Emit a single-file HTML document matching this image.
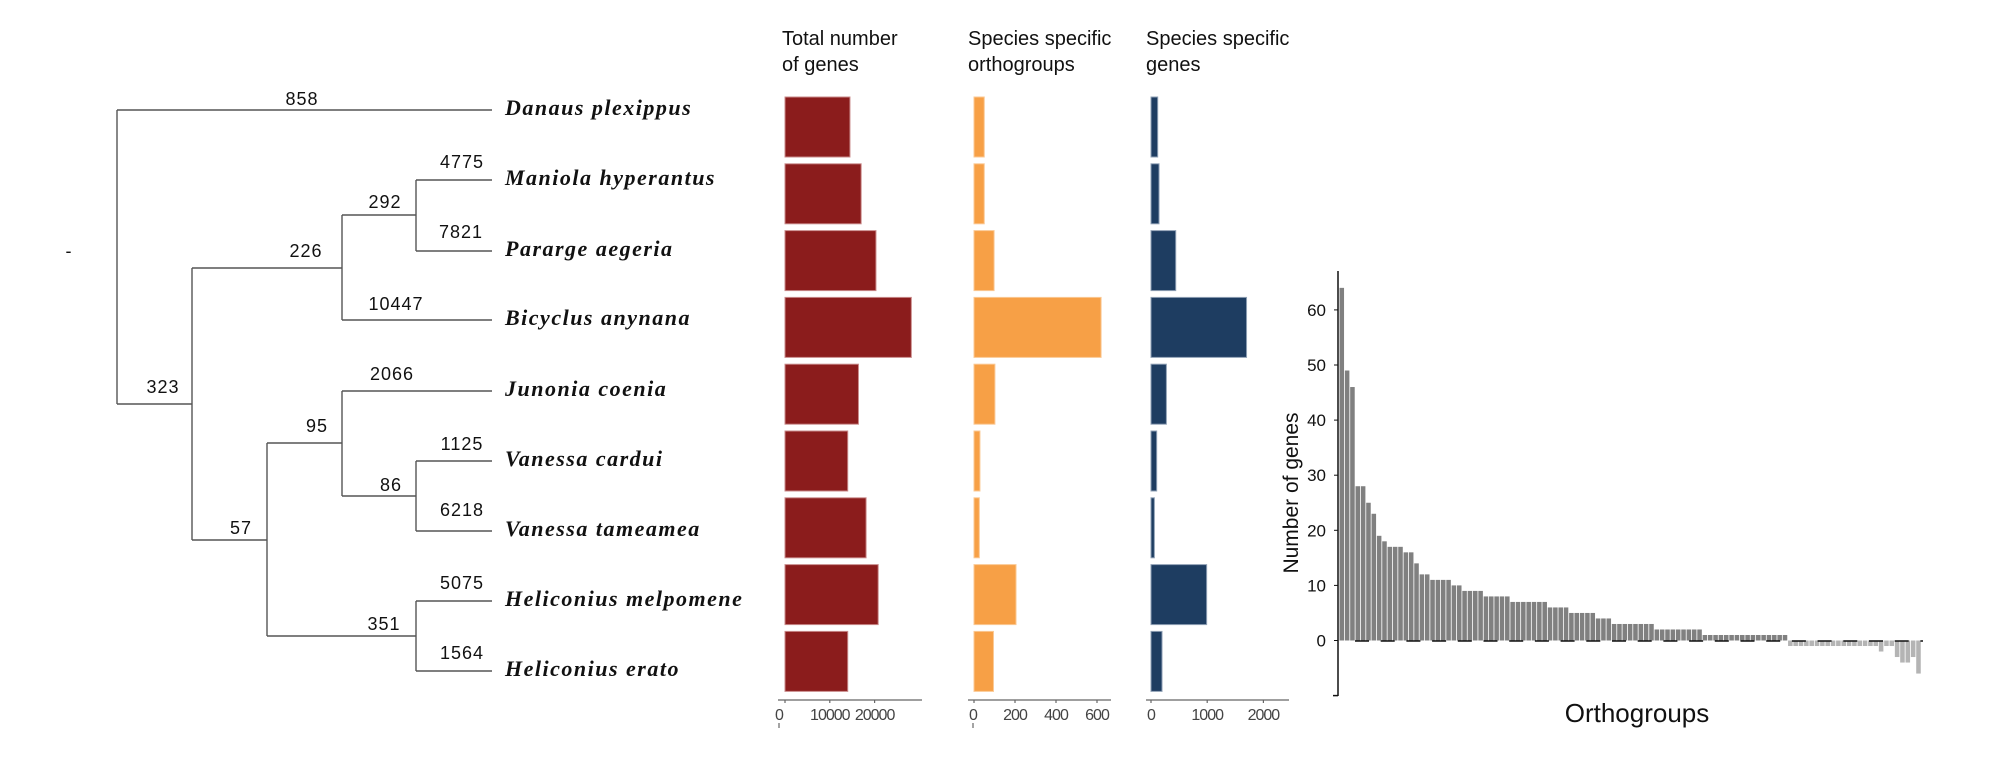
<!DOCTYPE html>
<html><head><meta charset="utf-8"><style>
html,body{margin:0;padding:0;background:#fff;}
svg{display:block;font-family:"Liberation Sans",sans-serif;}
</style></head><body>
<svg id="fig" width="2008" height="768" viewBox="0 0 2008 768" xmlns="http://www.w3.org/2000/svg">
<g id="tree" stroke="#555" stroke-width="1.4" fill="none">
<path d="M117,110 V404 M117,110 H492 M117,404 H192 M192,268 V540 M192,268 H342 M342,215 V320 M342,215 H416 M416,180 V251 M416,180 H492 M416,251 H492 M342,320 H492 M192,540 H267 M267,443 V636 M267,443 H342 M342,391 V496 M342,391 H492 M342,496 H416 M416,461 V531 M416,461 H492 M416,531 H492 M267,636 H416 M416,601 V671 M416,601 H492 M416,671 H492"/>
</g>
<g font-size="18" fill="#111" text-anchor="middle" letter-spacing="1">
<text x="302" y="105">858</text><text x="462" y="168">4775</text><text x="385" y="208">292</text>
<text x="461" y="238">7821</text><text x="306" y="257">226</text><text x="396" y="310">10447</text>
<text x="163" y="393">323</text><text x="392" y="380">2066</text><text x="317" y="432">95</text>
<text x="462" y="450">1125</text><text x="391" y="491">86</text><text x="462" y="516">6218</text>
<text x="241" y="534">57</text><text x="462" y="589">5075</text><text x="384" y="630">351</text><text x="462" y="659">1564</text>
<text x="69" y="257">-</text>
</g>
<g id="species" font-family="'Liberation Serif',serif" font-style="italic" font-weight="bold" font-size="22" letter-spacing="1.5" fill="#111"></g>
<g font-size="20" fill="#111">
<text x="782" y="45">Total number</text><text x="782" y="71">of genes</text>
<text x="968" y="45">Species specific</text><text x="968" y="71">orthogroups</text>
<text x="1146" y="45">Species specific</text><text x="1146" y="71">genes</text>
</g>
<g id="panels"></g>
<g id="right"></g>
</svg>
<script>
const NS="http://www.w3.org/2000/svg";
const species=["Danaus plexippus","Maniola hyperantus","Pararge aegeria","Bicyclus anynana","Junonia coenia","Vanessa cardui","Vanessa tameamea","Heliconius melpomene","Heliconius erato"];
const totalGenes=[14500,17000,20300,28200,16400,14000,18100,20800,14000];
const specOrthogroups=[50,50,98,620,102,29,26,205,95];
const specGenes=[119,143,440,1700,274,101,60,990,196];
const ticks1=[0,10000,20000];
const ticks2=[0,200,400,600];
const ticks3=[0,1000,2000];
const orthoValues=[64,49,46,28,28,25,23,19,18,17,17,17,16,16,14,12,12,11,11,11,11,10,10,9,9,9,9,8,8,8,8,8,7,7,7,7,7,7,7,6,6,6,6,5,5,5,5,5,4,4,4,3,3,3,3,3,3,3,3,2,2,2,2,2,2,2,2,2,1,1,1,1,1,1,1,1,1,1,1,1,1,1,1,1,-1,-1,-1,-1,-1,-1,-1,-1,-1,-1,-1,-1,-1,-1,-1,-1,-1,-2,-1,-1,-3,-4,-4,-3,-6];
const yTicks=[0,10,20,30,40,50,60];
const tipY=[110,180,251,320,391,461,531,601,671];

function mk(tag,attrs,parent){const e=document.createElementNS(NS,tag);for(const k in attrs)e.setAttribute(k,attrs[k]);parent.appendChild(e);return e;}

const sp=document.getElementById('species');
species.forEach((s,i)=>{
  const t=mk('text',{x:505,y:tipY[i]+5},sp);t.textContent=s;
  
  
});

const rowTop=i=>97+i*66.8, rowH=60;
const panels=document.getElementById('panels');
function panel(vals,ticks,zero,pxPer,color,edge,axisX0,axisX1,name,zeroLabelOff){
  const g=mk('g',{},panels);
  
  
  const sx=v=>zero+v*pxPer;
  vals.forEach((v,i)=>{
    const r=mk('rect',{x:zero,y:rowTop(i),width:sx(v)-zero,height:rowH,fill:color,stroke:edge,'stroke-width':1},g);
    
    
  });
  const ax=mk('line',{x1:axisX0,x2:axisX1,y1:700,y2:700,stroke:'#666','stroke-width':1.2},g);
  
  
  ticks.forEach((t,j)=>{
    const x=sx(t);
    mk('line',{x1:x,x2:x,y1:700,y2:703,stroke:'#666','stroke-width':1.2},g);
    const lx=j===0?x+zeroLabelOff:x;
    const tx=mk('text',{x:lx,y:720,'text-anchor':'middle','font-size':16,'letter-spacing':-1,fill:'#444'},g);
    tx.textContent=t;
    
    
  });
}
panel(totalGenes,ticks1,785,0.00448,'#8b1c1c','#c98a8a',778,922,'total-genes-panel',-6);
panel(specOrthogroups,ticks2,974,0.205,'#f7a046','#fbc994',968,1111,'species-specific-orthogroups-panel',-1);
panel(specGenes,ticks3,1151,0.0562,'#1e3d61','#8fa0b5',1146,1289,'species-specific-genes-panel',0);
mk('line',{x1:779,x2:779,y1:723,y2:728,stroke:'#666','stroke-width':1.2},panels);
mk('line',{x1:973,x2:973,y1:723,y2:728,stroke:'#666','stroke-width':1.2},panels);

// right chart
const R=document.getElementById('right');
const zeroY=640.5, perU=5.51, x0=1339.5, bw=5.34;
const sy=v=>zeroY-v*perU;
orthoValues.forEach((v,i)=>{
  const y=Math.min(sy(v),zeroY), h=Math.abs(sy(v)-zeroY);
  const r=mk('rect',{x:x0+i*bw,y:y,width:bw-0.8,height:h,fill:v>=0?'#808080':'#b4b4b4'},R);
  
  
});
const dl=mk('line',{x1:1355,x2:1923,y1:zeroY+0.5,y2:zeroY+0.5,stroke:'#111','stroke-width':1.4,'stroke-dasharray':'14 11.7'},R);


const ya=mk('line',{x1:1338,x2:1338,y1:271,y2:696,stroke:'#111','stroke-width':1.5},R);


mk('line',{x1:1333,x2:1338,y1:sy(-10),y2:sy(-10),stroke:'#111','stroke-width':1.5},R);
yTicks.forEach(t=>{
  mk('line',{x1:1334,x2:1338,y1:sy(t),y2:sy(t),stroke:'#111','stroke-width':1},R);
  const tx=mk('text',{x:1326,y:sy(t)+6,'text-anchor':'end','font-size':17,fill:'#111'},R);
  tx.textContent=t;
  
  
});
const yl=mk('text',{x:0,y:0,transform:'translate(1298,493) rotate(-90)','text-anchor':'middle','font-size':21,fill:'#111'},R);
yl.textContent='Number of genes';


const xl=mk('text',{x:1637,y:722,'text-anchor':'middle','font-size':26,fill:'#111'},R);
xl.textContent='Orthogroups';


</script>
</body></html>
